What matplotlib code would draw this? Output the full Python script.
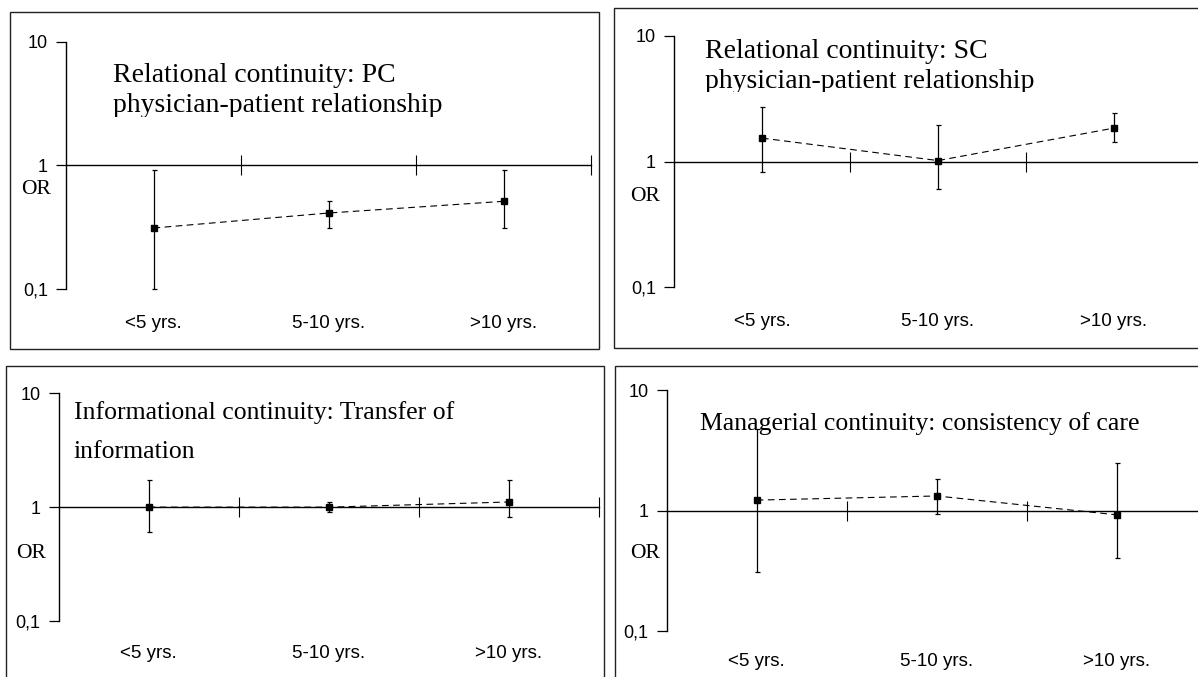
import matplotlib.pyplot as plt
from matplotlib.patches import Rectangle
from matplotlib.ticker import NullLocator
from matplotlib.transforms import blended_transform_factory

W, H = 1198, 677  # output size in pixels

# ---- data (odds ratios) ----
cats = ['<5 yrs.', '5-10 yrs.', '>10 yrs.']
ytick_vals = [0.1, 1, 10]
ytick_text = ['0,1', '1', '10']

titles = [
    ['Relational continuity: PC', 'physician-patient relationship'],
    ['Relational continuity: SC', 'physician-patient relationship'],
    ['Informational continuity: Transfer of', 'information'],
    ['Managerial continuity: consistency of care'],
]

or_pc = [0.31, 0.41, 0.51]
lo_pc = [0.10, 0.31, 0.31]
hi_pc = [0.92, 0.51, 0.92]

or_sc = [1.54, 1.02, 1.85]
lo_sc = [0.82, 0.61, 1.44]
hi_sc = [2.74, 1.95, 2.45]

or_inf = [1.00, 1.00, 1.11]
lo_inf = [0.61, 0.90, 0.82]
hi_inf = [1.74, 1.11, 1.74]

or_man = [1.22, 1.32, 0.92]
lo_man = [0.31, 0.93, 0.40]
hi_man = [4.74, 1.83, 2.46]

series = [(or_pc, lo_pc, hi_pc), (or_sc, lo_sc, hi_sc),
          (or_inf, lo_inf, hi_inf), (or_man, lo_man, hi_man)]

# ---- layout, in pixels ----
# box: frame (x0, y0, x1, y1); axes: (left, right, y at 10, y at 0.1)
layout = [
    dict(box=(10, 12, 599, 349), axes=(66, 591, 41.7, 288.7),
         tx=113, tbase=[82, 112], tsize=20, orpos=(36, 190), caty=324,
         clip=(100, 117, 470, 125)),
    dict(box=(614, 8, 1215, 348), axes=(674, 1202, 36, 287.3),
         tx=705, tbase=[58, 88], tsize=20, orpos=(645, 197), caty=322,
         clip=(695, 92, 1075, 100)),
    dict(box=(6, 366, 604, 690), axes=(58.7, 599, 393.3, 621),
         tx=74, tbase=[419, 458], tsize=18.5, orpos=(31, 553), caty=654,
         clip=None),
    dict(box=(615, 366, 1215, 690), axes=(666.7, 1207, 390, 631),
         tx=700, tbase=[430], tsize=18.5, orpos=(645, 553), caty=662,
         clip=None),
]

serif = 'Liberation Serif'
sans = 'Liberation Sans'

fig = plt.figure(figsize=(W / 100, H / 100), dpi=100)

for (vals, lo, hi), lay, title in zip(series, layout, titles):
    x0, y0, x1, y1 = lay['box']
    fig.add_artist(Rectangle((x0 / W, 1 - y1 / H), (x1 - x0) / W, (y1 - y0) / H,
                             transform=fig.transFigure, fill=False,
                             lw=1.0, ec='#222222', zorder=0))

    left, right, ytop, ybot = lay['axes']
    ax = fig.add_axes([left / W, 1 - ybot / H, (right - left) / W, (ybot - ytop) / H])
    ax.patch.set_alpha(0)
    ax.set_yscale('log')
    ax.set_ylim(0.1, 10)
    ax.set_xlim(-0.5, 2.5)

    for s in ['top', 'right']:
        ax.spines[s].set_visible(False)
    ax.spines['bottom'].set_position(('data', 1))
    ax.spines['left'].set_linewidth(1.0)
    ax.spines['bottom'].set_linewidth(1.0)

    ax.set_xticks([0.5, 1.5, 2.5])
    ax.set_xticklabels([])
    ax.tick_params(axis='x', direction='inout', length=14, width=0.8)
    ax.yaxis.set_minor_locator(NullLocator())
    ax.set_yticks(ytick_vals)
    ax.set_yticklabels(ytick_text, family=sans, fontsize=13)
    ax.tick_params(axis='y', direction='out', length=7, width=0.9, pad=6)

    xs = list(range(len(cats)))
    ax.plot(xs, vals, color='k', lw=0.8, ls=(0, (6, 4)), zorder=2, clip_on=False)
    err = [[v - l for v, l in zip(vals, lo)], [h - v for v, h in zip(vals, hi)]]
    cont = ax.errorbar(xs, vals, yerr=err, fmt='s', ms=4, mfc='k', mec='k',
                       ecolor='k', elinewidth=0.9, capsize=1.8, capthick=0.9,
                       zorder=3)
    for art in cont.get_children():
        art.set_clip_on(False)

    tr = blended_transform_factory(ax.transData, fig.transFigure)
    for i, c in enumerate(cats):
        ax.text(i, 1 - lay['caty'] / H, c, transform=tr, ha='center', va='center',
                family=sans, fontsize=13.5)

    for line, base in zip(title, lay['tbase']):
        fig.text(lay['tx'] / W, 1 - base / H, line, family=serif,
                 fontsize=lay['tsize'], ha='left', va='baseline')

    ox, oy = lay['orpos']
    fig.text(ox / W, 1 - oy / H, 'OR', family=serif, fontsize=15.5,
             ha='center', va='center')

    if lay['clip'] is not None:
        cx0, cy0, cx1, cy1 = lay['clip']
        fig.add_artist(Rectangle((cx0 / W, 1 - cy1 / H), (cx1 - cx0) / W,
                                 (cy1 - cy0) / H, transform=fig.transFigure,
                                 fc='white', ec='none', zorder=10))

fig.savefig('out.png', dpi=100, facecolor='white')
